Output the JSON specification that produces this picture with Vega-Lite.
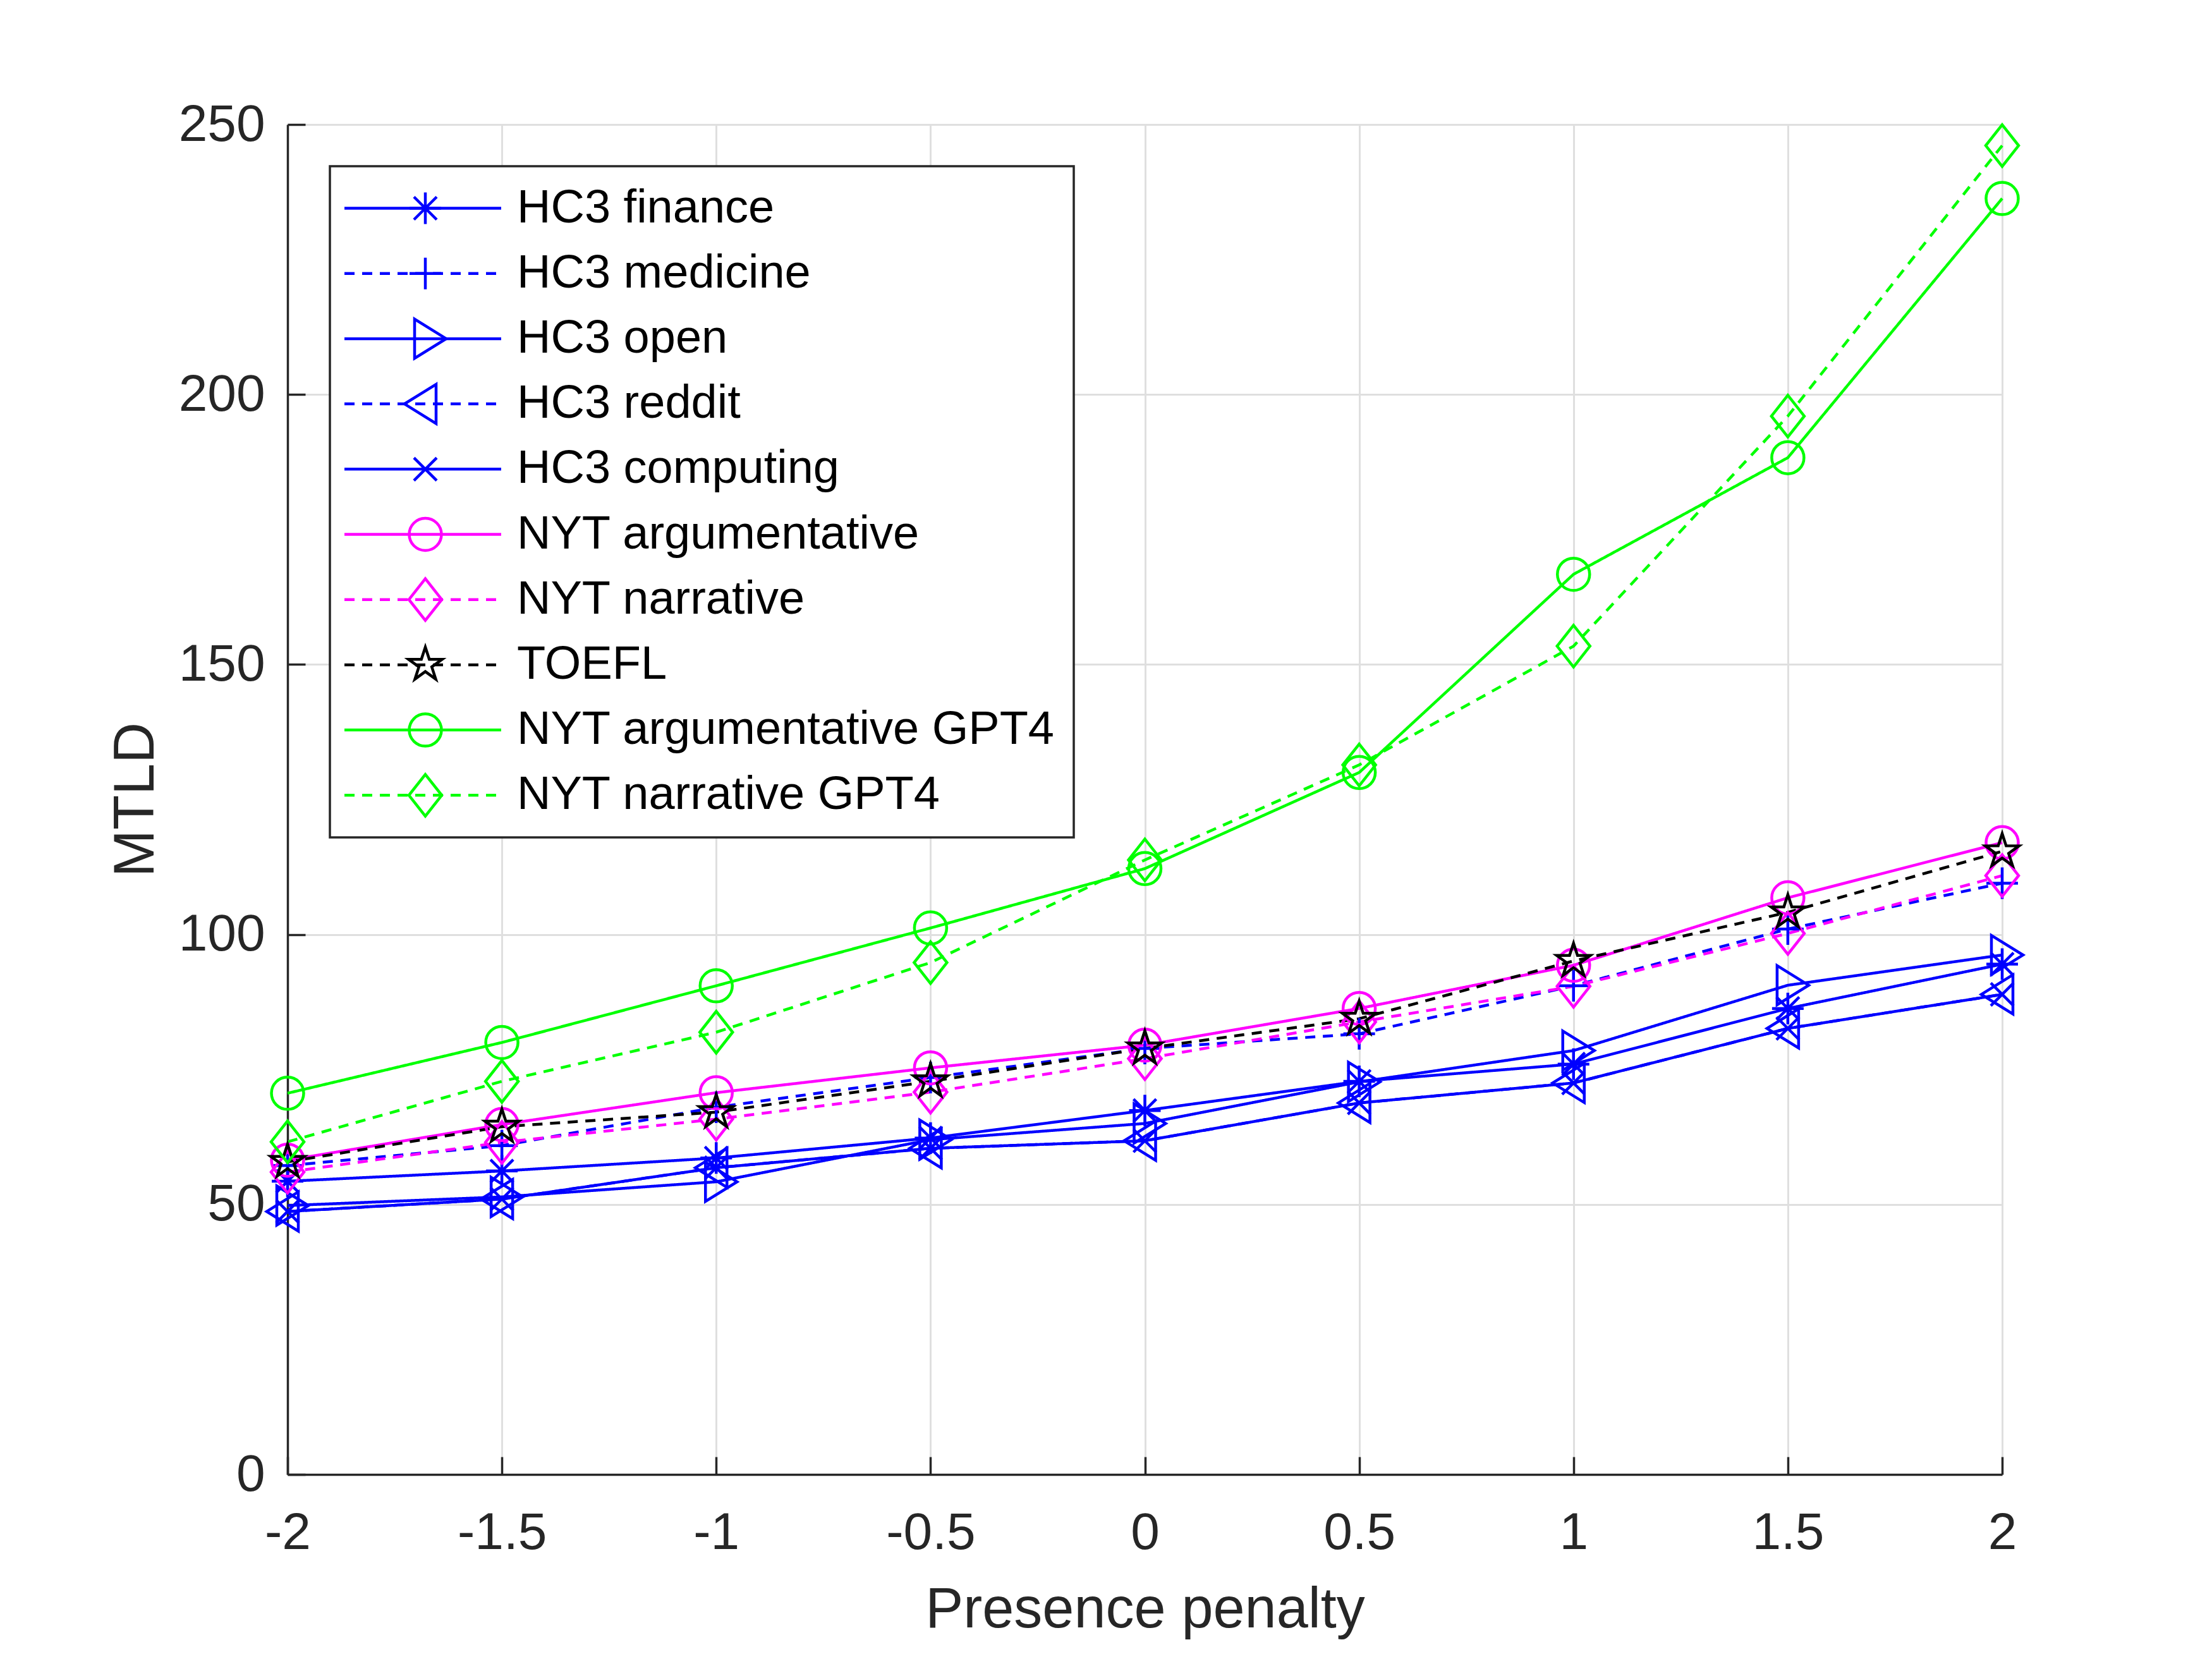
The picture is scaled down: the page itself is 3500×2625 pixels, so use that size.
{
  "$schema": "https://vega.github.io/schema/vega-lite/v6.json",
  "autosize": {"type": "none"},
  "padding": {"left": 455, "top": 197, "right": 332, "bottom": 292},
  "width": 2713,
  "height": 2136,
  "background": "white",
  "data": {
    "values": [
      {"x": -2, "v": 54.3, "s": "HC3 finance"},
      {"x": -1.5, "v": 56.2, "s": "HC3 finance"},
      {"x": -1, "v": 58.6, "s": "HC3 finance"},
      {"x": -0.5, "v": 62.3, "s": "HC3 finance"},
      {"x": 0, "v": 67.4, "s": "HC3 finance"},
      {"x": 0.5, "v": 72.8, "s": "HC3 finance"},
      {"x": 1, "v": 76.0, "s": "HC3 finance"},
      {"x": 1.5, "v": 86.3, "s": "HC3 finance"},
      {"x": 2, "v": 94.5, "s": "HC3 finance"},
      {"x": -2, "v": 57.2, "s": "HC3 medicine"},
      {"x": -1.5, "v": 60.9, "s": "HC3 medicine"},
      {"x": -1, "v": 68.0, "s": "HC3 medicine"},
      {"x": -0.5, "v": 73.5, "s": "HC3 medicine"},
      {"x": 0, "v": 78.9, "s": "HC3 medicine"},
      {"x": 0.5, "v": 81.6, "s": "HC3 medicine"},
      {"x": 1, "v": 90.5, "s": "HC3 medicine"},
      {"x": 1.5, "v": 101.0, "s": "HC3 medicine"},
      {"x": 2, "v": 109.5, "s": "HC3 medicine"},
      {"x": -2, "v": 49.8, "s": "HC3 open"},
      {"x": -1.5, "v": 51.4, "s": "HC3 open"},
      {"x": -1, "v": 54.2, "s": "HC3 open"},
      {"x": -0.5, "v": 62.0, "s": "HC3 open"},
      {"x": 0, "v": 65.0, "s": "HC3 open"},
      {"x": 0.5, "v": 72.7, "s": "HC3 open"},
      {"x": 1, "v": 78.5, "s": "HC3 open"},
      {"x": 1.5, "v": 90.6, "s": "HC3 open"},
      {"x": 2, "v": 96.2, "s": "HC3 open"},
      {"x": -2, "v": 48.7, "s": "HC3 reddit"},
      {"x": -1.5, "v": 51.0, "s": "HC3 reddit"},
      {"x": -1, "v": 56.8, "s": "HC3 reddit"},
      {"x": -0.5, "v": 60.4, "s": "HC3 reddit"},
      {"x": 0, "v": 61.8, "s": "HC3 reddit"},
      {"x": 0.5, "v": 68.8, "s": "HC3 reddit"},
      {"x": 1, "v": 72.5, "s": "HC3 reddit"},
      {"x": 1.5, "v": 82.6, "s": "HC3 reddit"},
      {"x": 2, "v": 88.9, "s": "HC3 reddit"},
      {"x": -2, "v": 48.7, "s": "HC3 computing"},
      {"x": -1.5, "v": 51.0, "s": "HC3 computing"},
      {"x": -1, "v": 56.8, "s": "HC3 computing"},
      {"x": -0.5, "v": 60.4, "s": "HC3 computing"},
      {"x": 0, "v": 61.8, "s": "HC3 computing"},
      {"x": 0.5, "v": 68.8, "s": "HC3 computing"},
      {"x": 1, "v": 72.5, "s": "HC3 computing"},
      {"x": 1.5, "v": 82.6, "s": "HC3 computing"},
      {"x": 2, "v": 88.9, "s": "HC3 computing"},
      {"x": -2, "v": 58.2, "s": "NYT argumentative"},
      {"x": -1.5, "v": 64.8, "s": "NYT argumentative"},
      {"x": -1, "v": 70.7, "s": "NYT argumentative"},
      {"x": -0.5, "v": 75.3, "s": "NYT argumentative"},
      {"x": 0, "v": 79.5, "s": "NYT argumentative"},
      {"x": 0.5, "v": 86.3, "s": "NYT argumentative"},
      {"x": 1, "v": 94.3, "s": "NYT argumentative"},
      {"x": 1.5, "v": 106.8, "s": "NYT argumentative"},
      {"x": 2, "v": 117.0, "s": "NYT argumentative"},
      {"x": -2, "v": 56.0, "s": "NYT narrative"},
      {"x": -1.5, "v": 61.5, "s": "NYT narrative"},
      {"x": -1, "v": 65.8, "s": "NYT narrative"},
      {"x": -0.5, "v": 70.8, "s": "NYT narrative"},
      {"x": 0, "v": 77.0, "s": "NYT narrative"},
      {"x": 0.5, "v": 83.8, "s": "NYT narrative"},
      {"x": 1, "v": 90.4, "s": "NYT narrative"},
      {"x": 1.5, "v": 100.2, "s": "NYT narrative"},
      {"x": 2, "v": 110.9, "s": "NYT narrative"},
      {"x": -2, "v": 57.9, "s": "TOEFL"},
      {"x": -1.5, "v": 64.4, "s": "TOEFL"},
      {"x": -1, "v": 67.1, "s": "TOEFL"},
      {"x": -0.5, "v": 72.8, "s": "TOEFL"},
      {"x": 0, "v": 78.9, "s": "TOEFL"},
      {"x": 0.5, "v": 84.4, "s": "TOEFL"},
      {"x": 1, "v": 95.1, "s": "TOEFL"},
      {"x": 1.5, "v": 104.1, "s": "TOEFL"},
      {"x": 2, "v": 115.4, "s": "TOEFL"},
      {"x": -2, "v": 70.6, "s": "NYT argumentative GPT4"},
      {"x": -1.5, "v": 80.0, "s": "NYT argumentative GPT4"},
      {"x": -1, "v": 90.5, "s": "NYT argumentative GPT4"},
      {"x": -0.5, "v": 101.2, "s": "NYT argumentative GPT4"},
      {"x": 0, "v": 112.2, "s": "NYT argumentative GPT4"},
      {"x": 0.5, "v": 130.0, "s": "NYT argumentative GPT4"},
      {"x": 1, "v": 166.7, "s": "NYT argumentative GPT4"},
      {"x": 1.5, "v": 188.3, "s": "NYT argumentative GPT4"},
      {"x": 2, "v": 236.3, "s": "NYT argumentative GPT4"},
      {"x": -2, "v": 61.6, "s": "NYT narrative GPT4"},
      {"x": -1.5, "v": 72.8, "s": "NYT narrative GPT4"},
      {"x": -1, "v": 81.9, "s": "NYT narrative GPT4"},
      {"x": -0.5, "v": 94.8, "s": "NYT narrative GPT4"},
      {"x": 0, "v": 113.8, "s": "NYT narrative GPT4"},
      {"x": 0.5, "v": 131.4, "s": "NYT narrative GPT4"},
      {"x": 1, "v": 153.4, "s": "NYT narrative GPT4"},
      {"x": 1.5, "v": 196.0, "s": "NYT narrative GPT4"},
      {"x": 2, "v": 246.1, "s": "NYT narrative GPT4"}
    ]
  },
  "encoding": {
    "x": {
      "field": "x",
      "type": "quantitative",
      "scale": {"domain": [-2, 2], "nice": false, "zero": false},
      "axis": {
        "title": "Presence penalty",
        "values": [-2, -1.5, -1, -0.5, 0, 0.5, 1, 1.5, 2],
        "labelExpr": "'' + datum.value",
        "labelPadding": 80,
        "titlePadding": 37
      }
    },
    "y": {
      "field": "v",
      "type": "quantitative",
      "scale": {"domain": [0, 250], "nice": false},
      "axis": {
        "title": "MTLD",
        "values": [0, 50, 100, 150, 200, 250],
        "labelPadding": 64,
        "titlePadding": 21
      }
    }
  },
  "layer": [
    {
      "mark": {"type": "line", "strokeWidth": 4.5},
      "encoding": {
        "color": {
          "field": "s",
          "type": "nominal",
          "scale": {
            "domain": ["HC3 finance", "HC3 medicine", "HC3 open", "HC3 reddit", "HC3 computing", "NYT argumentative", "NYT narrative", "TOEFL", "NYT argumentative GPT4", "NYT narrative GPT4"],
            "range": ["#0000ff", "#0000ff", "#0000ff", "#0000ff", "#0000ff", "#ff00ff", "#ff00ff", "#000000", "#00ff00", "#00ff00"]
          },
          "legend": {
            "title": null,
            "orient": "none",
            "legendX": 67,
            "legendY": 66,
            "padding": 29.5,
            "strokeColor": "#262626",
            "fillColor": "white",
            "symbolType": "M-43.5,0L204.5,0",
            "symbolSize": 4,
            "symbolStrokeWidth": 4.5,
            "labelFont": "Liberation Sans",
            "labelFontSize": 74,
            "labelColor": "#000000",
            "labelLimit": 2000,
            "labelOffset": 192.5,
            "rowPadding": 29.2
          }
        },
        "strokeDash": {
          "field": "s",
          "type": "nominal",
          "scale": {
            "domain": ["HC3 finance", "HC3 medicine", "HC3 open", "HC3 reddit", "HC3 computing", "NYT argumentative", "NYT narrative", "TOEFL", "NYT argumentative GPT4", "NYT narrative GPT4"],
            "range": [[1, 0], [16, 12], [1, 0], [16, 12], [1, 0], [1, 0], [16, 12], [16, 12], [1, 0], [16, 12]]
          }
        }
      }
    },
    {
      "mark": {"type": "point", "filled": false, "size": 4, "strokeWidth": 4.5, "opacity": 1},
      "encoding": {
        "stroke": {
          "field": "s",
          "type": "nominal",
          "scale": {
            "domain": ["NYT narrative GPT4", "NYT argumentative GPT4", "TOEFL", "NYT narrative", "NYT argumentative", "HC3 computing", "HC3 reddit", "HC3 open", "HC3 medicine", "HC3 finance"],
            "range": ["#00ff00", "#00ff00", "#000000", "#ff00ff", "#ff00ff", "#0000ff", "#0000ff", "#0000ff", "#0000ff", "#0000ff"]
          }
        },
        "shape": {
          "field": "s",
          "type": "nominal",
          "scale": {
            "domain": ["NYT narrative GPT4", "NYT argumentative GPT4", "TOEFL", "NYT narrative", "NYT argumentative", "HC3 computing", "HC3 reddit", "HC3 open", "HC3 medicine", "HC3 finance"],
            "range": [
              "M0,-33L26,0L0,33L-26,0Z",
              "M25.5,0A25.5,25.5,0,1,1,-25.5,0A25.5,25.5,0,1,1,25.5,0Z",
              "M0,-28L6.29,-8.66L26.63,-8.65L10.18,3.31L16.46,22.65L0,10.7L-16.46,22.65L-10.18,3.31L-26.63,-8.65L-6.29,-8.66Z",
              "M0,-33L26,0L0,33L-26,0Z",
              "M25.5,0A25.5,25.5,0,1,1,-25.5,0A25.5,25.5,0,1,1,25.5,0Z",
              "M-18,-18L18,18M-18,18L18,-18",
              "M17,-31L-33,0L17,31Z",
              "M-17,-31L33,0L-17,31Z",
              "M0,-25L0,25M-25,0L25,0",
              "M0,-25L0,25M-25,0L25,0M-18,-18L18,18M-18,18L18,-18"
            ]
          },
          "legend": {
            "title": null,
            "orient": "none",
            "legendX": 146.5,
            "legendY": 61,
            "padding": 29.5,
            "strokeColor": "transparent",
            "fillColor": "transparent",
            "values": ["HC3 finance", "HC3 medicine", "HC3 open", "HC3 reddit", "HC3 computing", "NYT argumentative", "NYT narrative", "TOEFL", "NYT argumentative GPT4", "NYT narrative GPT4"],
            "symbolSize": 4,
            "symbolStrokeWidth": 4.5,
            "labelFont": "Liberation Sans",
            "labelFontSize": 84,
            "labelOpacity": 0,
            "labelLimit": 2000,
            "labelOffset": 24,
            "rowPadding": 19.2
          }
        }
      }
    }
  ],
  "config": {
    "view": {"stroke": null},
    "font": "Liberation Sans",
    "legend": {"strokeWidth": 3.5},
    "axis": {
      "grid": true,
      "gridColor": "#dfdfdf",
      "gridWidth": 3,
      "domainColor": "#262626",
      "domainWidth": 3.5,
      "tickColor": "#262626",
      "tickWidth": 3.5,
      "tickSize": -28,
      "labelFont": "Liberation Sans",
      "labelFontSize": 82,
      "labelColor": "#262626",
      "labelFlush": false,
      "labelOverlap": false,
      "titleFont": "Liberation Sans",
      "titleFontSize": 90,
      "titleFontWeight": "normal",
      "titleColor": "#262626"
    }
  }
}
